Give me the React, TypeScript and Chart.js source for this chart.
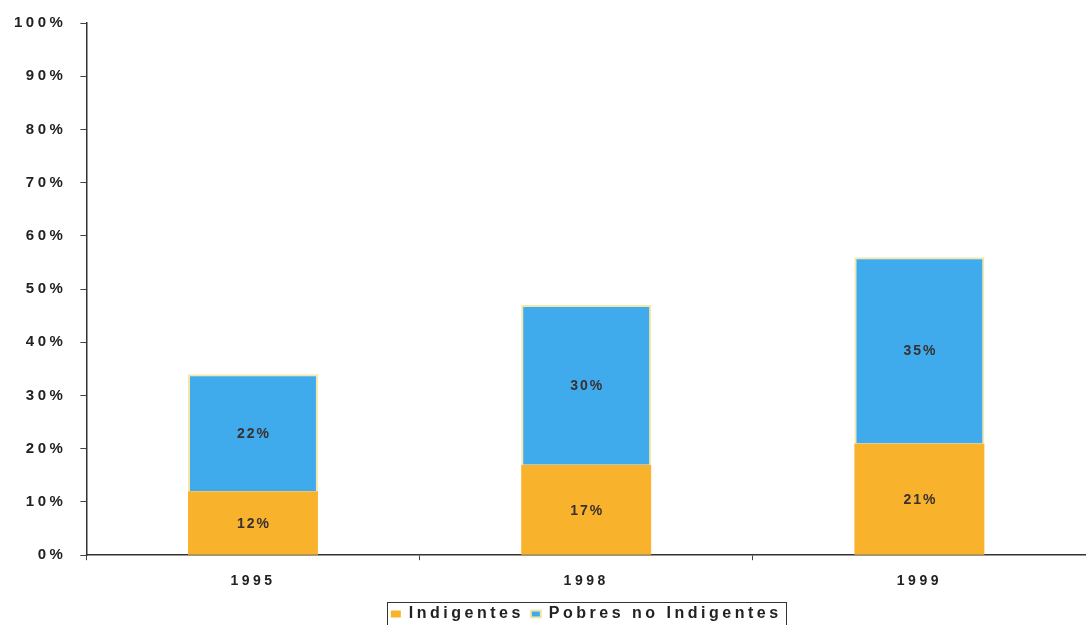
import React, { useEffect, useRef } from "react";
import { Chart, registerables } from "chart.js";

Chart.register(...registerables);

const categories = ["1995", "1998", "1999"];
const indigentes = [12, 17, 21];
const pobresNoIndigentes = [22, 30, 35];
const yTicks = [0, 10, 20, 30, 40, 50, 60, 70, 80, 90, 100];

const FONT = "'Liberation Sans', Arial, sans-serif";
const LEGEND_TEXT_TOP = 606;

const spacingPlugin = {
  id: "spacing",
  beforeLayout(chart: any) {
    chart.ctx.letterSpacing = "3.5px";
  },
  beforeDraw(chart: any) {
    chart.ctx.letterSpacing = "3.5px";
  },
};

const legendPlace = {
  id: "legendPlace",
  afterLayout(chart: any) {
    const lg = chart.legend;
    if (!lg) return;
    const ca = chart.chartArea;
    const pad = lg.options.labels.padding;
    const h = lg.bottom - lg.top;
    lg.left = ca.left;
    lg.right = ca.right;
    lg.top = LEGEND_TEXT_TOP - pad;
    lg.bottom = lg.top + h;
  },
};

const valueLabels = {
  id: "valueLabels",
  afterDatasetsDraw(chart: any) {
    const ctx = chart.ctx;
    ctx.save();
    ctx.letterSpacing = "2px";
    ctx.font = `bold 14px ${FONT}`;
    ctx.fillStyle = "#3a3030";
    ctx.textAlign = "center";
    ctx.textBaseline = "middle";
    chart.data.datasets.forEach((ds: any, di: number) => {
      const meta = chart.getDatasetMeta(di);
      meta.data.forEach((bar: any, i: number) => {
        const y = (bar.y + bar.base) / 2;
        ctx.fillText(ds.data[i] + "%", bar.x + 1, y + 1);
      });
    });
    ctx.restore();
  },
};

const legendBox = {
  id: "legendBox",
  afterDraw(chart: any) {
    const lg = chart.legend;
    if (!lg || !lg.lineWidths || !lg.lineWidths.length) return;
    const pad = lg.options.labels.padding;
    const lw = lg.lineWidths[0];
    const x0 = (lg.left + pad + lg.right - lw) / 2;
    const fs = lg.options.labels.font.size;
    const left = x0 - 4;
    const right = x0 + lw - pad + 4;
    const top = lg.top + pad - 4;
    const bottom = lg.top + pad + fs + 4;
    const ctx = chart.ctx;
    ctx.save();
    ctx.strokeStyle = "#333";
    ctx.lineWidth = 1;
    ctx.strokeRect(Math.round(left) + 0.5, Math.round(top) + 0.5, Math.round(right - left), Math.round(bottom - top));
    ctx.restore();
  },
};

export default function App() {
  const ref = useRef<HTMLCanvasElement>(null);
  useEffect(() => {
    if (!ref.current) return;
    const chart = new Chart(ref.current, {
      type: "bar",
      data: {
        labels: categories,
        datasets: [
          {
            label: "Indigentes",
            data: indigentes,
            backgroundColor: "#F8B22C",
            borderColor: "#F8E49A",
            borderWidth: 0,
            barPercentage: 0.39,
            categoryPercentage: 1,
          },
          {
            label: "Pobres no Indigentes",
            data: pobresNoIndigentes,
            backgroundColor: "#3FAAEC",
            borderColor: "#F5E7A8",
            borderWidth: 2,
            barPercentage: 0.39,
            categoryPercentage: 1,
          },
        ],
      },
      options: {
        animation: false,
        responsive: true,
        maintainAspectRatio: false,
        layout: { padding: { top: 15, right: 0, left: 0, bottom: -11 } },
        plugins: {
          tooltip: { enabled: false },
          legend: {
            position: "bottom",
            labels: {
              font: { family: FONT, size: 16, weight: "bold" },
              color: "#222",
              boxWidth: 10,
              boxHeight: 7,
              padding: 7,
            },
          },
        },
        scales: {
          x: {
            stacked: true,
            grid: {
              display: true,
              drawOnChartArea: false,
              drawTicks: true,
              tickLength: 5,
              offset: true,
              color: "#444",
            },
            border: { color: "#333", width: 1.5 },
            ticks: {
              font: { family: FONT, size: 14, weight: "bold" },
              color: "#222",
              padding: 13,
            },
          },
          y: {
            stacked: true,
            min: 0,
            max: 100,
            afterBuildTicks(scale: any) {
              scale.ticks = yTicks.map((v) => ({ value: v }));
            },
            grid: {
              display: true,
              drawOnChartArea: false,
              drawTicks: true,
              tickLength: 6,
              color: "#444",
            },
            border: { color: "#333", width: 1.5 },
            ticks: {
              font: { family: FONT, size: 15, weight: "bold" },
              color: "#222",
              padding: 14,
              callback: (v: any) => v + "%",
            },
          },
        },
      },
      plugins: [spacingPlugin, legendPlace, valueLabels, legendBox],
    } as any);
    return () => chart.destroy();
  }, []);
  return (
    <div style={{ position: "fixed", left: 0, top: 0, width: 1086, height: 625, background: "#fff" }}>
      <canvas ref={ref} />
    </div>
  );
}
